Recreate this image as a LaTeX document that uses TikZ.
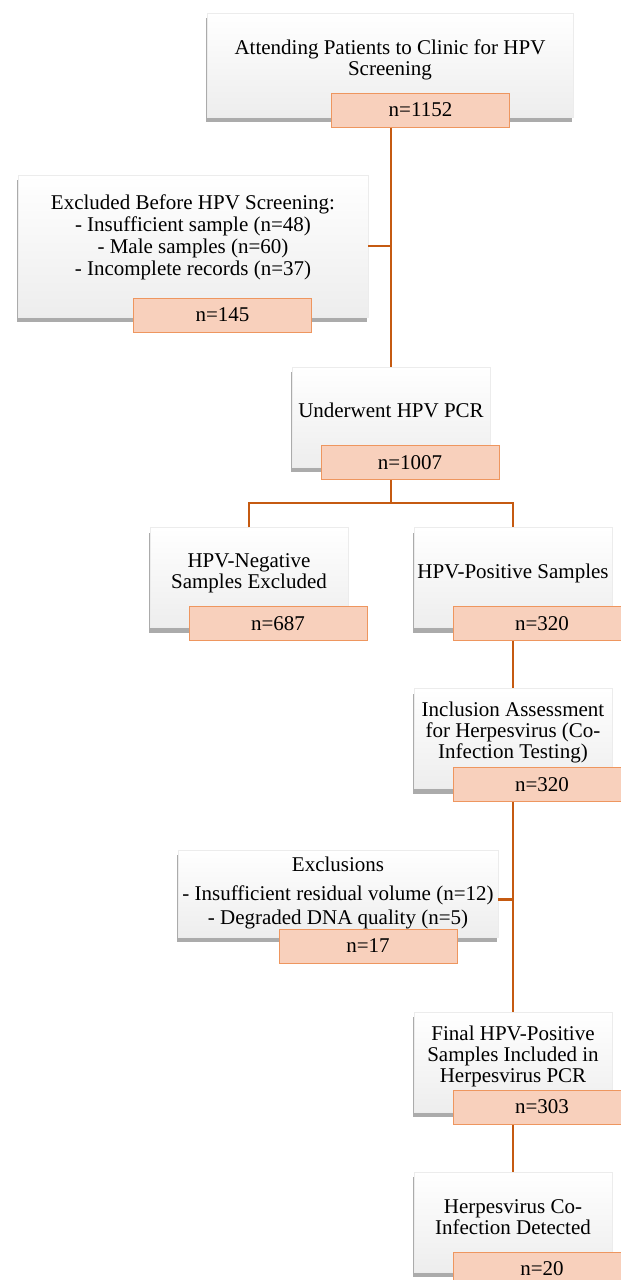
\documentclass[tikz,border=0pt]{standalone}
\usepackage{fontspec}
\setmainfont{Liberation Serif}
\usetikzlibrary{shadows}
\definecolor{linkorange}{RGB}{197,90,17}
\definecolor{countfill}{RGB}{248,208,188}
\definecolor{countdraw}{RGB}{238,150,95}

\begin{document}
\begin{tikzpicture}[x=1pt,y=-1pt,
  box/.style={draw=gray!15, top color=white, bottom color=gray!14,
    drop shadow={shadow xshift=-1pt, shadow yshift=-5pt, opacity=0.55, fill=gray!80!black},
    minimum width=198pt, minimum height=100pt, inner sep=0pt},
  count/.style={draw=countdraw, fill=countfill, line width=1pt,
    minimum width=178pt, minimum height=34pt, inner sep=0pt,
    font=\fontsize{21}{21}\selectfont},
  txt/.style={align=center, inner sep=0pt, font=\fontsize{21}{21}\selectfont},
  link/.style={draw=linkorange, line width=2.6pt}]
  \useasboundingbox (0,0) rectangle (621,1280);
  % screening
  \node[box, minimum width=366pt, minimum height=104pt] (attend) at (390,65) {};
  \node[txt] (attendtxt) at (390,60) {Attending Patients to Clinic for HPV\\Screening};
  \node[count] (n1152) at (420.5,110) {n=1152};
  \node[box, minimum width=350pt, minimum height=142pt] (excl1) at (193,246) {};
  \node[txt, font=\fontsize{21}{22}\selectfont] (excl1txt) at (193,237)
    {Excluded Before HPV Screening:\\- Insufficient sample (n=48)\\- Male samples (n=60)\\- Incomplete records (n=37)};
  \node[count] (n145) at (222.5,315) {n=145};
  \node[box] (pcr) at (391,417) {};
  \node[txt] (pcrtxt) at (391,410) {Underwent HPV PCR};
  \node[count] (n1007) at (410,462.5) {n=1007};
  % HPV result
  \node[box] (neg) at (249,577.5) {};
  \node[txt] (negtxt) at (249,573) {HPV-Negative\\Samples Excluded};
  \node[count] (n687) at (278,623.5) {n=687};
  \node[box] (pos) at (513,577.5) {};
  \node[txt] (postxt) at (513,573) {HPV-Positive Samples};
  \node[count] (n320) at (542,623.5) {n=320};
  % herpesvirus testing
  \node[box] (incl) at (513,738.5) {};
  \node[txt] (incltxt) at (513,732) {Inclusion Assessment\\for Herpesvirus (Co-\\Infection Testing)};
  \node[count] (n320b) at (542,784.5) {n=320};
  \node[box, minimum width=320pt, minimum height=87pt] (excl2) at (338,893.5) {};
  \node[txt, font=\fontsize{21}{24}\selectfont] (excl2txt) at (338,892.5)
    {Exclusions\\[5pt]- Insufficient residual volume (n=12)\\- Degraded DNA quality (n=5)};
  \node[count] (n17) at (368,946) {n=17};
  \node[box] (final) at (513,1062) {};
  \node[txt] (finaltxt) at (513,1056) {Final HPV-Positive\\Samples Included in\\Herpesvirus PCR};
  \node[count] (n303) at (542,1107) {n=303};
  \node[box] (herpes) at (513,1222) {};
  \node[txt] (herpestxt) at (513,1217) {Herpesvirus Co-\\Infection Detected};
  \node[count] (n20) at (542,1269) {n=20};
  % connectors
  \coordinate (split) at (391,503);
  \coordinate (e2) at ([yshift=-6pt]excl2.east);
  \draw[link] (pcr.center |- n1152.south) -- (pcr.north);
  \draw[link] (pcr.center |- excl1.east) -- (excl1.east);
  \draw[link] (pcr.center |- n1007.south) -- (split);
  \draw[link] (neg.north) -- (neg.north |- split) -- (pos.north |- split) -- (pos.north);
  \draw[link] (pos.center |- n320.south) -- (incl.north);
  \draw[link] (incl.center |- n320b.south) -- (final.north);
  \draw[link] (e2) -- (e2 -| final.center);
  \draw[link] (final.center |- n303.south) -- (herpes.north);
\end{tikzpicture}
\end{document}
